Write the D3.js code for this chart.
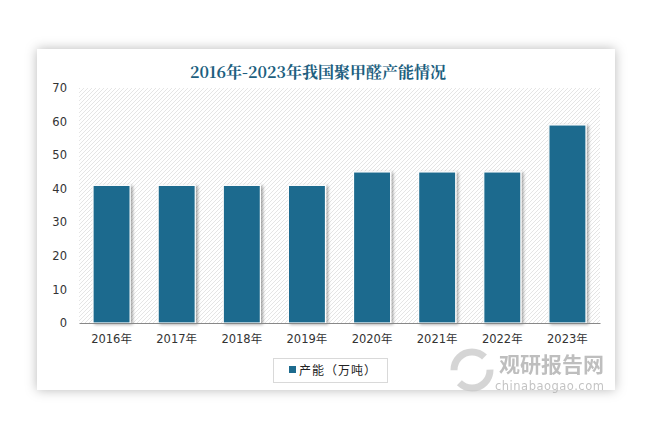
<!DOCTYPE html>
<html><head><meta charset="utf-8">
<script src="https://cdn.jsdelivr.net/npm/d3@7/dist/d3.min.js"></script>
<style>body{margin:0;background:#fff;}svg{display:block;}</style>
</head><body>
<svg id="c" width="657" height="441"></svg>
<script>
const categories = ["2016年","2017年","2018年","2019年","2020年","2021年","2022年","2023年"];
const capacity = [41, 41, 41, 41, 45, 45, 45, 59];
const yTicks = [0,10,20,30,40,50,60,70];
const title = "2016年-2023年我国聚甲醛产能情况";
const seriesName = "产能（万吨）";

const svg = d3.select("#c");
const defs = svg.append("defs");
const f = defs.append("filter").attr("id","cardShadow").attr("x","-10%").attr("y","-10%").attr("width","120%").attr("height","120%");
f.append("feDropShadow").attr("dx",0).attr("dy",0).attr("stdDeviation",6).attr("flood-color","#000").attr("flood-opacity",0.28);
const bf = defs.append("filter").attr("id","barShadow").attr("x","-20%").attr("y","-10%").attr("width","150%").attr("height","120%");
bf.append("feDropShadow").attr("dx",2).attr("dy",1).attr("stdDeviation",1.5).attr("flood-color","#000").attr("flood-opacity",0.35);
const pat = defs.append("pattern").attr("id","hatch").attr("patternUnits","userSpaceOnUse").attr("width",4).attr("height",4);
pat.append("rect").attr("width",4).attr("height",4).attr("fill","#fff");
pat.append("path").attr("d","M-1,1 l2,-2 M0,4 l4,-4 M3,5 l2,-2").attr("stroke","#dadada").attr("stroke-width",0.7);

// card
svg.append("rect").attr("x",37).attr("y",49).attr("width",578).attr("height",341)
  .attr("fill","#fff").attr("filter","url(#cardShadow)");

const m = {left:79, right:600, top:88, bottom:323};
const x = d3.scaleBand().domain(categories).range([m.left, m.right]).paddingInner(0.43).paddingOuter(0.215);
const y = d3.scaleLinear().domain([0,70]).range([m.bottom, m.top]);

svg.append("rect").attr("x",m.left).attr("y",m.top).attr("width",m.right-m.left).attr("height",m.bottom-m.top).attr("fill","url(#hatch)");

svg.append("text").attr("x",318).attr("y",78).attr("text-anchor","middle")
  .attr("font-family","'Noto Serif CJK SC','Noto Sans CJK SC',serif").attr("font-weight","bold")
  .attr("font-size",16).attr("fill","#1d5f80").text(title);

svg.append("g").selectAll("rect").data(capacity).join("rect")
  .attr("x",(d,i)=>x(categories[i])).attr("y",d=>y(d))
  .attr("width",x.bandwidth()).attr("height",d=>y(0)-y(d))
  .attr("fill","#1d6b8e").attr("stroke","#fff").attr("stroke-width",1.2)
  .attr("filter","url(#barShadow)");

const yAxis = svg.append("g").attr("transform",`translate(${m.left},0)`)
  .call(d3.axisLeft(y).tickValues(yTicks).tickSize(0).tickPadding(12));
yAxis.select(".domain").remove();
yAxis.selectAll("text").attr("font-family","'DejaVu Sans',sans-serif").attr("font-size",11.5).attr("fill","#333");

const xAxis = svg.append("g").attr("transform",`translate(0,${m.bottom})`)
  .call(d3.axisBottom(x).tickSize(0).tickPadding(12));
xAxis.select(".domain").attr("stroke","#888").attr("stroke-width",1.2);
xAxis.selectAll("text").attr("font-family","'DejaVu Sans','Noto Sans CJK SC',sans-serif").attr("font-size",11.5).attr("fill","#333");

// legend
const lg = svg.append("g");
lg.append("rect").attr("x",273.5).attr("y",358.5).attr("width",114).attr("height",24).attr("fill","#fff").attr("stroke","#d9d9d9");
lg.append("rect").attr("x",289).attr("y",366).attr("width",7).attr("height",7).attr("fill","#1d6b8e");
lg.append("text").attr("x",299).attr("y",374.5).attr("font-family","'Noto Sans CJK SC',sans-serif").attr("font-size",12).attr("letter-spacing",1).attr("fill","#222").text(seriesName);

// watermark
const wm = svg.append("g").attr("opacity",0.75);
wm.append("circle").attr("cx",472).attr("cy",370).attr("r",18).attr("fill","none").attr("stroke","#c8c8c8").attr("stroke-width",7).attr("stroke-dasharray","42 14");
wm.append("text").attr("x",499).attr("y",372).attr("font-family","'Noto Sans CJK SC',sans-serif").attr("font-weight","bold").attr("font-size",21).attr("fill","#a9a9a9").text("观研报告网");
wm.append("text").attr("x",495).attr("y",390).attr("font-family","'DejaVu Sans',sans-serif").attr("font-size",11.5).attr("fill","#b0b0b0").attr("letter-spacing",0.5).text("chinabaogao.com");
</script>
</body></html>
